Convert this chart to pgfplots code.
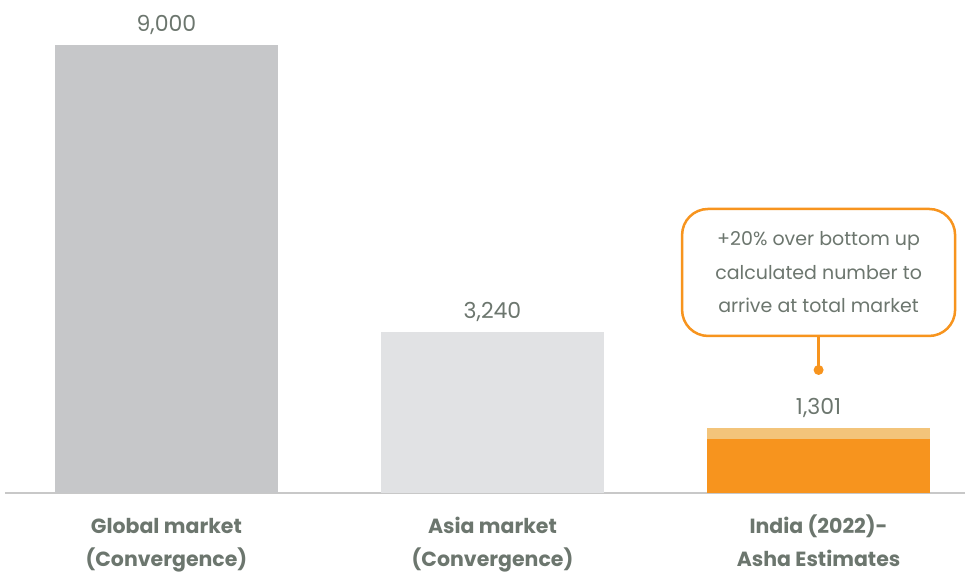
\documentclass[border=0pt]{standalone}
\usepackage{pgfplots}
\pgfplotsset{compat=1.18}
\usepackage{fontspec}
\setmainfont{Poppins}
\definecolor{gglobal}{RGB}{198,199,201}
\definecolor{gasia}{RGB}{225,226,228}
\definecolor{orng}{RGB}{247,148,30}
\definecolor{lorng}{RGB}{243,196,122}
\definecolor{txt}{RGB}{108,118,110}
\definecolor{axl}{RGB}{200,200,200}
\begin{document}
\begin{tikzpicture}
\begin{axis}[
  at={(0,0)}, anchor=south west,
  scale only axis, width=960pt, height=493pt,
  xmin=-0.495, xmax=2.449, ymin=0, ymax=9903,
  axis x line=bottom, axis y line=none,
  axis line style={draw=axl, line width=1.8pt, -},
  xtick={0,1,2}, xticklabels={\strut Global market\\\strut(Convergence), \strut Asia market\\\strut(Convergence), \strut India (2022)-\\\strut Asha Estimates},
  xticklabel style={align=center, font=\fontsize{20.5}{33}\selectfont\bfseries, text=txt, yshift=-17pt, inner sep=0pt},
  major tick length=0pt,
  ybar, bar shift=0pt, bar width=0.684,
  nodes near coords,
  every node near coord/.append style={font=\fontsize{22}{24}\selectfont, text=txt, anchor=south, yshift=7pt,
    /pgf/number format/1000 sep={,}, /pgf/number format/assume math mode=true},
  clip=false,
]
\addplot[fill=gglobal, draw=none] coordinates {(0,9000)};
\addplot[fill=gasia, draw=none] coordinates {(1,3240)};
\addplot[fill=lorng, draw=none] coordinates {(2,1301)};
\addplot[fill=orng, draw=none, nodes near coords={}] coordinates {(2,1084)};
\draw[orng, line width=2.5pt] (axis cs:2,3154) -- (axis cs:2,2471);
\fill[orng] (axis cs:2,2471) circle (5pt);
\node[draw=orng, line width=2.5pt, rounded corners=26pt, fill=white, minimum width=273pt, minimum height=127pt,
  align=center, font=\fontsize{19}{33.5}\selectfont, text=txt, inner sep=0pt] at (axis cs:2,4430)
  {+20\% over bottom up\\calculated number to\\arrive at total market};
\end{axis}
\pgfresetboundingbox
\path[use as bounding box] (-5pt,-78pt) rectangle (960pt,493pt);
\end{tikzpicture}
\end{document}
